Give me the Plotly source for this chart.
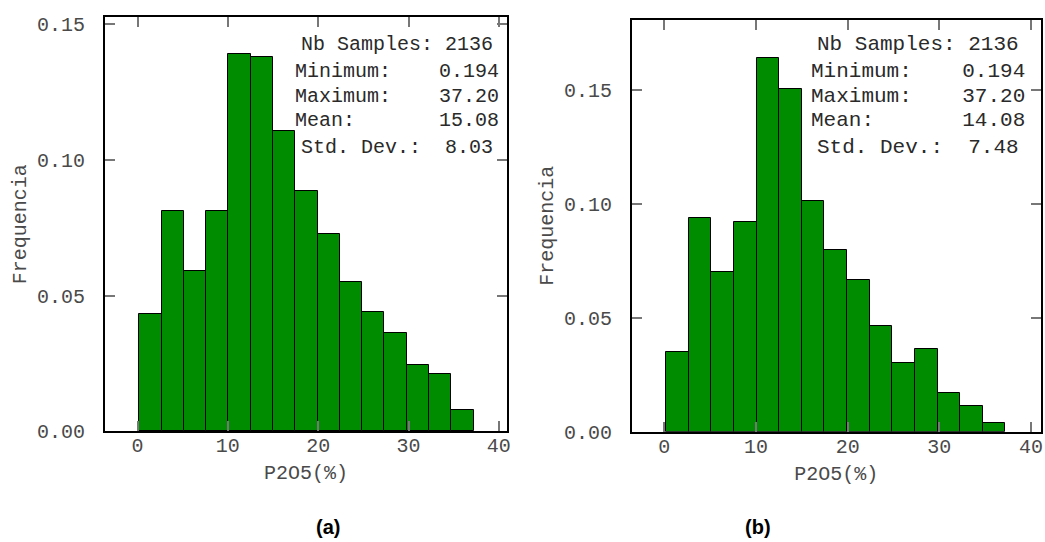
import plotly.graph_objects as go

# ---- data ----
n_samples = 2136
v_min = 0.194
v_max = 37.20
n_bins = 15

freq_a = [0.0431, 0.0811, 0.0592, 0.0811, 0.1390, 0.1380, 0.1107, 0.0886,
          0.0728, 0.0549, 0.0440, 0.0361, 0.0244, 0.0212, 0.0079]
freq_b = [0.0348, 0.0936, 0.0699, 0.0921, 0.1640, 0.1502, 0.1011, 0.0797,
          0.0664, 0.0465, 0.0303, 0.0364, 0.0168, 0.0111, 0.0037]

stats_a = {"mean": "15.08", "std": "8.03"}
stats_b = {"mean": "14.08", "std": "7.48"}

x_ticks = [0, 10, 20, 30, 40]
y_ticks_a = [0.00, 0.05, 0.10, 0.15]
y_ticks_b = [0.00, 0.05, 0.10, 0.15]

panel_labels = ["(a)", "(b)"]
x_title = "P2O5(%)"
y_title = "Frequencia"

# ---- bins ----
bw = (v_max - v_min) / n_bins
centers = [v_min + bw * (i + 0.5) for i in range(n_bins)]

GREEN = "rgb(0,140,0)"
MONO = "Liberation Mono, Courier New, monospace"
TXT = "#4a4a4a"

fig = go.Figure()
fig.add_trace(go.Bar(x=centers, y=freq_a, width=bw, xaxis="x", yaxis="y",
                     marker=dict(color=GREEN, line=dict(color="black", width=1)),
                     showlegend=False))
fig.add_trace(go.Bar(x=centers, y=freq_b, width=bw, xaxis="x2", yaxis="y2",
                     marker=dict(color=GREEN, line=dict(color="black", width=1)),
                     showlegend=False))

def xax(domain, anchor, rng, fs):
    return dict(domain=domain, anchor=anchor, range=rng, automargin=False,
                tickvals=x_ticks, ticktext=[str(t) for t in x_ticks],
                ticks="inside", ticklen=10, tickcolor="#777", tickwidth=1.5,
                mirror="allticks", showline=True, linecolor="black", linewidth=2,
                showgrid=False, zeroline=False, ticklabelstandoff=-5,
                tickfont=dict(family=MONO, size=fs, color=TXT),
                title=dict(text=x_title, font=dict(family=MONO, size=fs, color=TXT), standoff=8))

def yax(domain, anchor, rng, ticks, fs):
    return dict(domain=domain, anchor=anchor, range=rng, automargin=False,
                tickvals=ticks, ticktext=["%.2f" % t for t in ticks],
                ticks="inside", ticklen=10, tickcolor="#777", tickwidth=1.5,
                mirror="allticks", showline=True, linecolor="black", linewidth=2,
                showgrid=False, zeroline=False, ticklabelstandoff=14,
                tickfont=dict(family=MONO, size=fs, color=TXT),
                title=dict(text=y_title, font=dict(family=MONO, size=fs, color=TXT), standoff=5))

W, H = 1045, 542
fig.update_layout(
    width=W, height=H, margin=dict(l=0, r=0, t=0, b=0, autoexpand=False),
    paper_bgcolor="white", plot_bgcolor="white", bargap=0,
    xaxis=xax([105 / W, 507 / W], "y", [-3.6, 40.9], 20),
    yaxis=yax([1 - 431.3 / H, 1 - 17 / H], "x", [0, 0.1527], y_ticks_a, 20),
    xaxis2=xax([632 / W, 1040.7 / W], "y2", [-3.52, 41.05], 20),
    yaxis2=yax([1 - 431.7 / H, 1 - 20 / H], "x2", [0, 0.1807], y_ticks_b, 20),
)

def stats_lines(s):
    lines = ["Nb Samples: %d" % n_samples,
             "Minimum:    %.3f" % v_min,
             "Maximum:    %.2f" % v_max,
             "Mean:       %s" % s["mean"],
             "Std. Dev.:  %s" % s["std"]]
    return [l.replace(" ", "&nbsp;") for l in lines]

line_y = [45, 71, 96, 121, 147]
for s, cx, fs in [(stats_a, 397, 20), (stats_b, 918, 21)]:
    for txt, ly in zip(stats_lines(s), line_y):
        fig.add_annotation(xref="paper", yref="paper", x=cx / W, y=1 - ly / H,
                           xanchor="center", yanchor="middle", align="center",
                           showarrow=False, text=txt,
                           font=dict(family=MONO, size=fs, color="#2a2a2a"))

for lab, cx in zip(panel_labels, [327.5, 758]):
    fig.add_annotation(xref="paper", yref="paper", x=cx / W, y=1 - 527 / H,
                       xanchor="center", yanchor="middle", showarrow=False,
                       text="<b>%s</b>" % lab,
                       font=dict(family="Liberation Sans, Arial, sans-serif", size=20, color="black"))

fig.write_html("out.html")
